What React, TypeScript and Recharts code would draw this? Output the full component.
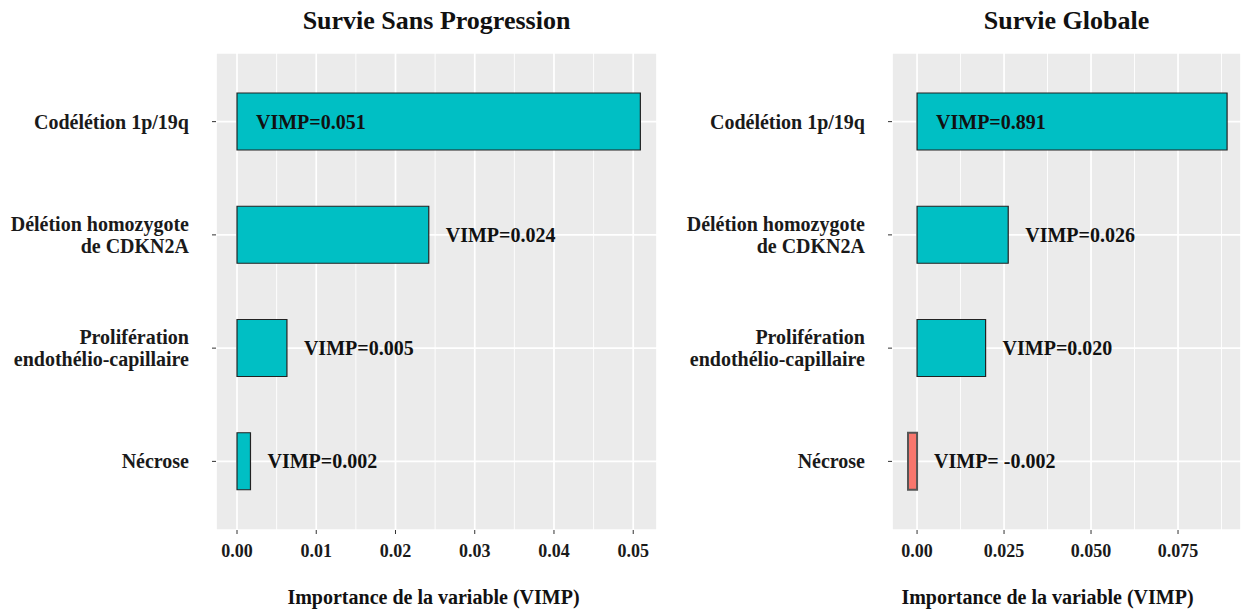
import React from 'react';
import {
  BarChart,
  Bar,
  XAxis,
  YAxis,
  CartesianGrid,
  LabelList,
  Label,
  Cell,
} from 'recharts';

// variables (same order in both panels)
const categories = [
  'Codélétion 1p/19q',
  'Délétion homozygote\nde CDKN2A',
  'Prolifération\nendothélio-capillaire',
  'Nécrose',
];

// survie sans progression
const pfsValues = [0.0509, 0.0242, 0.0063, 0.0017];
const pfsLabels = ['VIMP=0.051', 'VIMP=0.024', 'VIMP=0.005', 'VIMP=0.002'];
const pfsTicks = [0, 0.01, 0.02, 0.03, 0.04, 0.05];
const pfsMinor = [0.005, 0.015, 0.025, 0.035, 0.045];
const pfsDomain = [-0.00265, 0.053];

// survie globale
const osValues = [0.0891, 0.0262, 0.0197, -0.0026];
const osLabels = ['VIMP=0.891', 'VIMP=0.026', 'VIMP=0.020', 'VIMP= -0.002'];
const osTicks = [0, 0.025, 0.05, 0.075];
const osMinor = [0.0125, 0.0375, 0.0625, 0.0875];
const osDomain = [-0.0072, 0.0931];

const FONT = '"Liberation Serif", "Times New Roman", serif';
const TEAL = '#00BFC4';
const SALMON = '#F8766D';

const CategoryTick = ({ x, y, payload }: any) => {
  const lines = String(payload.value).split('\n');
  const lh = 22;
  const y0 = y - ((lines.length - 1) * lh) / 2;
  return (
    <text
      x={x - 21}
      y={y0}
      textAnchor="end"
      dominantBaseline="central"
      fontFamily={FONT}
      fontWeight="bold"
      fontSize={20}
      fill="#1a1a1a"
    >
      {lines.map((l, i) => (
        <tspan key={i} x={x - 21} dy={i === 0 ? 0 : lh}>
          {l}
        </tspan>
      ))}
    </text>
  );
};

const makeValueLabel = (labels: string[]) => (props: any) => {
  const { x, y, width, height, index } = props;
  const start = Math.min(x, x + width);
  const end = Math.max(x, x + width);
  // wide bars carry their label inside
  const tx = Math.abs(width) > 200 ? start + 19 : end + 17;
  return (
    <text
      x={tx}
      y={y + height / 2}
      dominantBaseline="central"
      fontFamily={FONT}
      fontWeight="bold"
      fontSize={20}
      fill="#111"
    >
      {labels[index]}
    </text>
  );
};

const makeAxisTitle = (shift: number) => (props: any) => {
  const { viewBox } = props;
  const cx = viewBox.x + viewBox.width / 2 + shift;
  return (
    <text
      x={cx}
      y={viewBox.y + viewBox.height - 8}
      textAnchor="middle"
      fontFamily={FONT}
      fontWeight="bold"
      fontSize={20}
      fill="#111"
    >
      Importance de la variable (VIMP)
    </text>
  );
};

function Panel({
  title,
  values,
  labels,
  ticks,
  minor,
  domain,
  fmt,
  left,
  width,
  yAxisWidth,
  titleShift,
}: any) {
  const data = categories.map((name, i) => ({ name, value: values[i] }));
  const plotW = width - yAxisWidth;
  return (
    <div style={{ position: 'absolute', left, top: 0, width, height: 612 }}>
      <div
        style={{
          position: 'absolute',
          left: yAxisWidth,
          width: plotW,
          top: 6,
          lineHeight: '30px',
          textAlign: 'center',
          fontFamily: FONT,
          fontWeight: 'bold',
          fontSize: 26,
          color: '#111',
        }}
      >
        {title}
      </div>
      <BarChart
        width={width}
        height={612}
        data={data}
        layout="vertical"
        margin={{ top: 53, right: 0, bottom: 0, left: 0 }}
      >
        {/* minor grid */}
        <CartesianGrid
          fill="#EBEBEB"
          fillOpacity={1}
          stroke="#ffffff"
          strokeWidth={0.9}
          horizontal={false}
          verticalValues={minor}
        />
        {/* major grid */}
        <CartesianGrid stroke="#ffffff" strokeWidth={1.7} />
        <XAxis
          type="number"
          domain={domain}
          ticks={ticks}
          allowDataOverflow
          height={82}
          axisLine={false}
          tickLine={{ stroke: '#333' }}
          tickSize={4}
          tickMargin={10}
          tickFormatter={fmt}
          tick={{ fontFamily: FONT, fontWeight: 'bold', fontSize: 18, fill: '#1a1a1a' }}
        >
          <Label content={makeAxisTitle(titleShift)} />
        </XAxis>
        <YAxis
          type="category"
          dataKey="name"
          width={yAxisWidth}
          axisLine={false}
          tickLine={{ stroke: '#333' }}
          tickSize={4}
          padding={{ top: 12, bottom: 12 }}
          tick={<CategoryTick />}
          interval={0}
        />
        <Bar dataKey="value" barSize={57} isAnimationActive={false}>
          {data.map((d, i) => (
            <Cell
              key={i}
              fill={d.value < 0 ? SALMON : TEAL}
              stroke={d.value < 0 ? '#555' : '#222'}
              strokeWidth={d.value < 0 ? 2 : 1.2}
            />
          ))}
          <LabelList dataKey="value" content={makeValueLabel(labels)} />
        </Bar>
      </BarChart>
    </div>
  );
}

export default function App() {
  return (
    <div
      style={{
        position: 'absolute',
        left: 0,
        top: 0,
        width: 1241,
        height: 612,
        background: '#fff',
        overflow: 'hidden',
      }}
    >
      <Panel
        title="Survie Sans Progression"
        values={pfsValues}
        labels={pfsLabels}
        ticks={pfsTicks}
        minor={pfsMinor}
        domain={pfsDomain}
        fmt={(v: number) => v.toFixed(2)}
        left={0}
        width={657}
        yAxisWidth={216}
        titleShift={-3}
      />
      <Panel
        title="Survie Globale"
        values={osValues}
        labels={osLabels}
        ticks={osTicks}
        minor={osMinor}
        domain={osDomain}
        fmt={(v: number) => (v === 0 ? '0.00' : v.toFixed(3))}
        left={660}
        width={581}
        yAxisWidth={232}
        titleShift={-19}
      />
    </div>
  );
}
